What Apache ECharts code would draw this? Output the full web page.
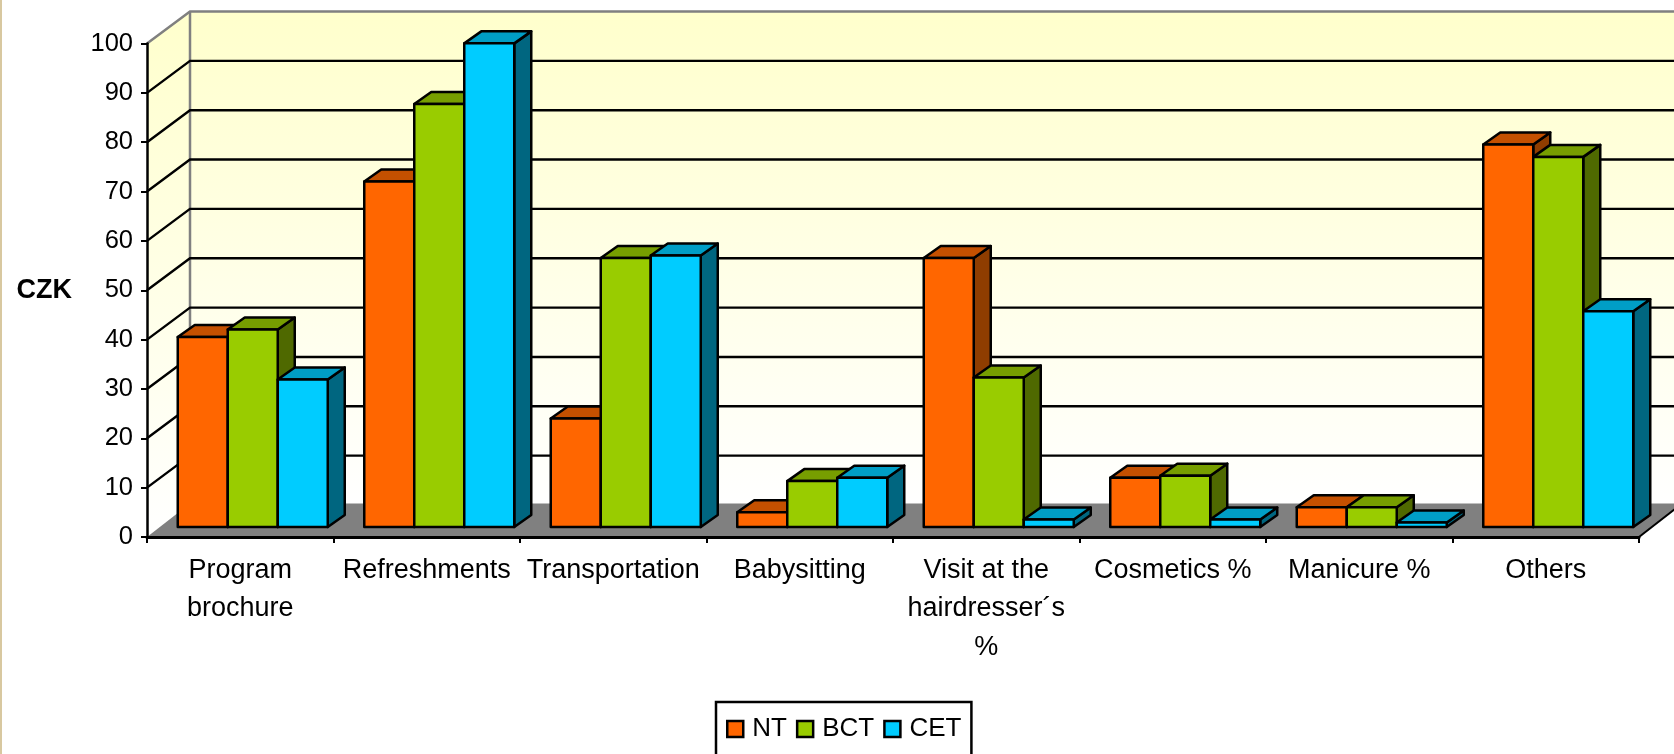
<!DOCTYPE html>
<html style="height: 100%">
<head>
    <meta charset="utf-8">
</head>
<body style="height: 100%; margin: 0; background: #fff">
<div id="container" style="height: 100%"></div>
<script type="text/javascript" src="https://cdn.jsdelivr.net/npm/echarts@6/dist/echarts.min.js"></script>
<script type="text/javascript">
  const categories = [
    'Program\nbrochure', 'Refreshments', 'Transportation', 'Babysitting',
    'Visit at the\nhairdresser´s\n%', 'Cosmetics %', 'Manicure %', 'Others'
  ];
  const nt = [38.5, 70, 22, 3, 54.5, 10, 4, 77.5];
  const bct = [40, 85.7, 54.5, 9.3, 30.3, 10.4, 4, 75];
  const cet = [29.9, 98, 55, 10, 1.5, 1.5, 0.9, 43.7];
  const gridTicks = [10, 20, 30, 40, 50, 60, 70, 80, 90];

  const FONT = '"Liberation Sans", Arial, sans-serif';
  // the fake 3d: how far the back wall sits from the front axes, and the bars inside that depth
  const WALL_DX = 43, WALL_DY = -32, FLOOR_DY = -33.5;
  const BAR_DX = 12.5, BAR_DY = -10;
  const DEPTH_DX = 17, DEPTH_DY = -12;
  const BAR_W = 50;

  function renderWalls (params, api) {
    const band = api.size([1, 0])[0];
    const top = api.coord([0, 100]);
    const bottom = api.coord([0, 0]);
    const left = top[0] - band / 2;
    const right = left + band * categories.length;
    const fill = new echarts.graphic.LinearGradient(0, 0, 0, 1, [
      { offset: 0, color: '#ffffcc' },
      { offset: 1, color: '#ffffff' }
    ]);
    const grey = { stroke: '#808080', lineWidth: 2.5, fill: null };
    const wx = left + WALL_DX;
    const wt = top[1] + WALL_DY;
    const wb = bottom[1] + WALL_DY;
    const fb = bottom[1] + FLOOR_DY;
    return {
      type: 'group',
      children: [
        { type: 'polygon', shape: { points: [[left, top[1]], [wx, wt], [wx, wb], [left, bottom[1]]] }, style: { fill: fill } },
        { type: 'rect', shape: { x: wx, y: wt, width: right - left, height: wb - wt }, style: { fill: fill } },
        { type: 'polygon', shape: { points: [[left, bottom[1]], [right, bottom[1]], [right + WALL_DX, fb], [wx, fb]] }, style: { fill: '#808080' } },
        { type: 'line', shape: { x1: right, y1: bottom[1], x2: right + WALL_DX, y2: fb }, style: { stroke: '#000', lineWidth: 2 } },
        { type: 'polyline', shape: { points: [[left, top[1]], [wx, wt], [right + WALL_DX, wt]] }, style: grey },
        { type: 'line', shape: { x1: wx, y1: wt, x2: wx, y2: wb }, style: { stroke: '#808080', lineWidth: 2.5 } }
      ]
    };
  }

  function renderGridLine (params, api) {
    const band = api.size([1, 0])[0];
    const p = api.coord([0, api.value(0)]);
    const left = p[0] - band / 2;
    const right = left + band * categories.length;
    return {
      type: 'polyline',
      shape: { points: [[left, p[1]], [left + WALL_DX, p[1] + WALL_DY], [right + WALL_DX, p[1] + WALL_DY]] },
      style: { stroke: '#000', lineWidth: 2.4, fill: null }
    };
  }

  function barRenderer (slot, front, topColor, sideColor) {
    return function (params, api) {
      const band = api.size([1, 0])[0];
      const i = api.value(0);
      const top = api.coord([i, api.value(1)]);
      const base = api.coord([i, 0]);
      const x0 = top[0] - band / 2 + BAR_DX + (band - BAR_W * 3) / 2 + slot * BAR_W;
      const x1 = x0 + BAR_W;
      const yt = top[1] + BAR_DY;
      const yb = base[1] + BAR_DY;
      const edge = { stroke: '#000', lineWidth: 2.5, lineJoin: 'round' };
      return {
        type: 'group',
        children: [
          { type: 'polygon', shape: { points: [[x1, yt], [x1 + DEPTH_DX, yt + DEPTH_DY], [x1 + DEPTH_DX, yb + DEPTH_DY], [x1, yb]] }, style: Object.assign({ fill: sideColor }, edge) },
          { type: 'polygon', shape: { points: [[x0, yt], [x0 + DEPTH_DX, yt + DEPTH_DY], [x1 + DEPTH_DX, yt + DEPTH_DY], [x1, yt]] }, style: Object.assign({ fill: topColor }, edge) },
          { type: 'rect', shape: { x: x0, y: yt, width: BAR_W, height: yb - yt }, style: Object.assign({ fill: front }, edge) }
        ]
      };
    };
  }

  function barSeries (name, values, slot, front, topColor, sideColor) {
    return {
      name: name,
      type: 'custom',
      z: 3 + slot,
      itemStyle: { color: front },
      renderItem: barRenderer(slot, front, topColor, sideColor),
      encode: { x: 0, y: 1 },
      data: values.map((v, i) => [i, v])
    };
  }

  const myChart = echarts.init(document.getElementById('container'));
  const option = {
    animation: false,
    backgroundColor: '#ffffff',
    graphic: [
      { type: 'rect', left: 0, top: 0, shape: { width: 2, height: 754 }, style: { fill: '#d8c8a0' } }
    ],
    legend: {
      left: 716,
      top: 702,
      padding: [14, 10, 16, 10],
      itemGap: 9,
      itemWidth: 16,
      itemHeight: 16,
      borderColor: '#000',
      borderWidth: 2.5,
      icon: 'rect',
      data: ['NT', 'BCT', 'CET'],
      itemStyle: { borderColor: '#000', borderWidth: 2.5 },
      textStyle: { fontFamily: FONT, fontSize: 26, color: '#000', padding: [2, 0, 0, 4] }
    },
    grid: { left: 147, right: 35, top: 43.5, bottom: 217 },
    xAxis: {
      type: 'category',
      data: categories,
      z: 6,
      axisLine: { lineStyle: { color: '#000', width: 3 } },
      axisTick: { show: true, length: 6, lineStyle: { color: '#000', width: 2 } },
      axisLabel: { interval: 0, margin: 14, fontFamily: FONT, fontSize: 27, lineHeight: 38.5, color: '#000' }
    },
    yAxis: {
      type: 'value',
      min: 0,
      max: 100,
      interval: 10,
      z: 6,
      name: 'CZK',
      nameLocation: 'middle',
      nameGap: 75,
      nameRotate: 0,
      nameTextStyle: { fontFamily: FONT, fontSize: 27, fontWeight: 'bold', color: '#000', padding: [6, 0, 0, 0] },
      splitLine: { show: false },
      axisLine: { show: true, lineStyle: { color: '#000', width: 2.5 } },
      axisTick: { show: true, length: 6, lineStyle: { color: '#000', width: 2 } },
      axisLabel: { margin: 14, fontFamily: FONT, fontSize: 25.5, color: '#000' }
    },
    series: [
      { type: 'custom', z: 1, renderItem: renderWalls, data: [[0, 100]], silent: true },
      { type: 'custom', z: 2, renderItem: renderGridLine, data: gridTicks.map(v => [v]), silent: true },
      barSeries('NT', nt, 0, '#ff6600', '#c45000', '#8f3d00'),
      barSeries('BCT', bct, 1, '#99cc00', '#779e00', '#4f6900'),
      barSeries('CET', cet, 2, '#00ccff', '#009ec6', '#006680')
    ]
  };
  myChart.setOption(option);
</script>
</body>
</html>
